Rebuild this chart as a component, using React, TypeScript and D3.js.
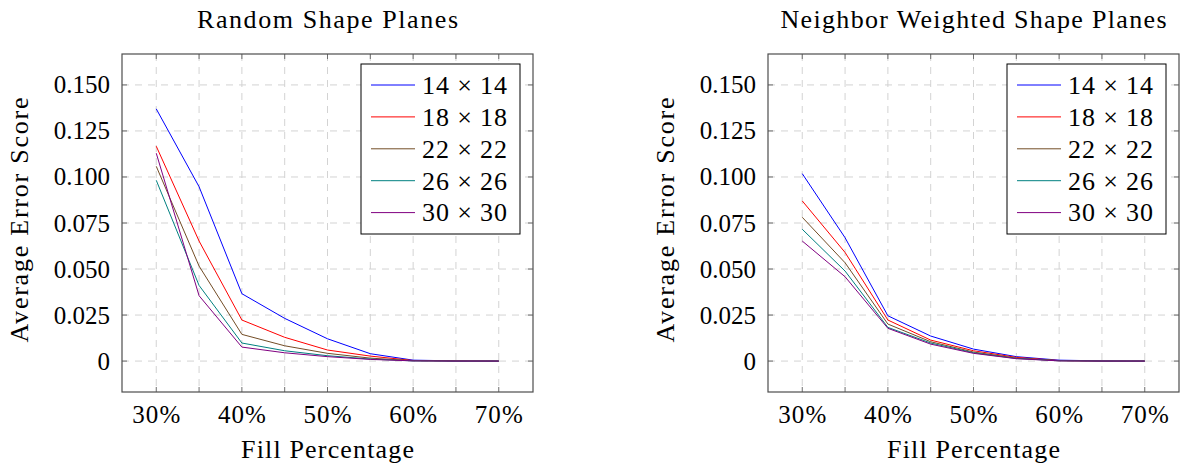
import { useEffect, useRef } from "react";
import * as d3 from "d3";

// fill percentages on the x axis (tick every 5%, label every 10%)
const fillPercent = [30, 35, 40, 45, 50, 55, 60, 65, 70];
const xTickLabels = [30, 40, 50, 60, 70];
const yTicks = [0, 0.025, 0.05, 0.075, 0.1, 0.125, 0.15];

const gridSizes = ["14 × 14", "18 × 18", "22 × 22", "26 × 26", "30 × 30"];
const seriesColors = ["#0000ff", "#ff0000", "#734d26", "#008080", "#800080"];

// Random Shape Planes
const random14 = [0.137, 0.0947, 0.0366, 0.0232, 0.0121, 0.004, 0.0005, 0.0001, 0];
const random18 = [0.1167, 0.0652, 0.0223, 0.0129, 0.006, 0.0027, 0.0003, 0.0001, 0];
const random22 = [0.1058, 0.0516, 0.0145, 0.0083, 0.0042, 0.0016, 0.0002, 0, 0];
const random26 = [0.0982, 0.0411, 0.0098, 0.0056, 0.0029, 0.0011, 0.0001, 0, 0];
const random30 = [0.1129, 0.0355, 0.0076, 0.0045, 0.0024, 0.0009, 0.0001, 0, 0];

// Neighbor Weighted Shape Planes
const neighbor14 = [0.1018, 0.067, 0.0246, 0.0136, 0.0065, 0.0024, 0.0005, 0.0001, 0];
const neighbor18 = [0.087, 0.059, 0.0223, 0.0114, 0.0056, 0.002, 0.0003, 0, 0];
const neighbor22 = [0.0781, 0.0534, 0.0201, 0.0105, 0.0049, 0.0016, 0.0002, 0, 0];
const neighbor26 = [0.0716, 0.0489, 0.0183, 0.0098, 0.0045, 0.0014, 0.0002, 0, 0];
const neighbor30 = [0.0652, 0.0458, 0.0178, 0.0092, 0.0042, 0.0013, 0.0001, 0, 0];

const panels = [
  {
    title: "Random Shape Planes",
    titleWidth: 261,
    left: 122,
    right: 533,
    series: [random14, random18, random22, random26, random30],
  },
  {
    title: "Neighbor Weighted Shape Planes",
    titleWidth: 386,
    left: 768,
    right: 1179,
    series: [neighbor14, neighbor18, neighbor22, neighbor26, neighbor30],
  },
];

const WIDTH = 1181;
const HEIGHT = 466;
const TOP = 54;
const BOTTOM = 392;
const FONT = "'Liberation Serif', 'Times New Roman', serif";

export default function App() {
  const ref = useRef<SVGSVGElement | null>(null);

  useEffect(() => {
    const svg = d3.select(ref.current);
    svg.selectAll("*").remove();

    const y = d3.scaleLinear().domain([-0.0168, 0.1668]).range([BOTTOM, TOP]);
    const yFormat = (v: number) => (v === 0 ? "0" : d3.format(".3f")(v));

    // the original is set in Computer Modern, wider than Times: spread the words to its width
    function wide(sel: any, len: number) {
      return sel.attr("font-size", 26).attr("textLength", len).attr("lengthAdjust", "spacing");
    }

    panels.forEach((panel) => {
      const x = d3
        .scaleLinear()
        .domain([26, 74])
        .range([panel.left, panel.right]);
      const g = svg.append("g");
      const cx = (panel.left + panel.right) / 2;

      // dashed grid
      const grid = g
        .append("g")
        .attr("stroke", "#d3d3d3")
        .attr("stroke-width", 1)
        .attr("stroke-dasharray", "7,6");
      fillPercent.forEach((p) => {
        grid
          .append("line")
          .attr("x1", x(p))
          .attr("x2", x(p))
          .attr("y1", TOP)
          .attr("y2", BOTTOM);
      });
      yTicks.forEach((t) => {
        grid
          .append("line")
          .attr("x1", panel.left)
          .attr("x2", panel.right)
          .attr("y1", y(t))
          .attr("y2", y(t));
      });

      // tick marks on all four sides, pointing inwards
      const ticks = g.append("g").attr("stroke", "#6e6e6e").attr("stroke-width", 1);
      const tl = 5;
      fillPercent.forEach((p) => {
        ticks.append("line").attr("x1", x(p)).attr("x2", x(p)).attr("y1", BOTTOM).attr("y2", BOTTOM - tl);
        ticks.append("line").attr("x1", x(p)).attr("x2", x(p)).attr("y1", TOP).attr("y2", TOP + tl);
      });
      yTicks.forEach((t) => {
        ticks.append("line").attr("x1", panel.left).attr("x2", panel.left + tl).attr("y1", y(t)).attr("y2", y(t));
        ticks.append("line").attr("x1", panel.right).attr("x2", panel.right - tl).attr("y1", y(t)).attr("y2", y(t));
      });

      // data lines
      const line = d3
        .line<number>()
        .x((_, i) => x(fillPercent[i]))
        .y((d) => y(d));
      panel.series.forEach((values, i) => {
        g.append("path")
          .attr("d", line(values))
          .attr("fill", "none")
          .attr("stroke", seriesColors[i])
          .attr("stroke-width", 1);
      });

      // frame
      g.append("rect")
        .attr("x", panel.left)
        .attr("y", TOP)
        .attr("width", panel.right - panel.left)
        .attr("height", BOTTOM - TOP)
        .attr("fill", "none")
        .attr("stroke", "#4d4d4d")
        .attr("stroke-width", 1.2);

      // tick labels
      xTickLabels.forEach((p) => {
        g.append("text")
          .attr("x", x(p))
          .attr("y", 423)
          .attr("text-anchor", "middle")
          .attr("textLength", 48)
          .attr("lengthAdjust", "spacing")
          .text(`${p}%`);
      });
      yTicks.forEach((t) => {
        g.append("text")
          .attr("x", panel.left - 12)
          .attr("y", y(t))
          .attr("dy", "0.34em")
          .attr("text-anchor", "end")
          .text(yFormat(t));
      });

      // titles and axis labels
      wide(
        g.append("text").attr("x", cx).attr("y", 28).attr("text-anchor", "middle").text(panel.title),
        panel.titleWidth
      );
      wide(
        g.append("text").attr("x", cx).attr("y", 458).attr("text-anchor", "middle").text("Fill Percentage"),
        173
      );
      wide(
        g.append("text")
          .attr("transform", `translate(${panel.left - 94},${(TOP + BOTTOM) / 2 - 3}) rotate(-90)`)
          .attr("text-anchor", "middle")
          .text("Average Error Score"),
        245
      );

      // legend
      const lw = 159;
      const lh = 170;
      const lx = panel.right - 13 - lw;
      const ly = 64;
      const legend = g.append("g");
      legend
        .append("rect")
        .attr("x", lx)
        .attr("y", ly)
        .attr("width", lw)
        .attr("height", lh)
        .attr("fill", "white")
        .attr("stroke", "black")
        .attr("stroke-width", 1);
      gridSizes.forEach((name, i) => {
        const ry = ly + 21 + i * 31.9;
        legend
          .append("line")
          .attr("x1", lx + 10)
          .attr("x2", lx + 54)
          .attr("y1", ry)
          .attr("y2", ry)
          .attr("stroke", seriesColors[i])
          .attr("stroke-width", 1);
        wide(
          legend
            .append("text")
            .attr("x", lx + 61)
            .attr("y", ry)
            .attr("dy", "0.34em")
            .text(name),
          85
        );
      });
    });
  }, []);

  return (
    <div style={{ position: "absolute", left: 0, top: 0 }}>
      <svg
        ref={ref}
        width={WIDTH}
        height={HEIGHT}
        style={{ display: "block", fontFamily: FONT, fontSize: 25, background: "white" }}
      />
    </div>
  );
}
